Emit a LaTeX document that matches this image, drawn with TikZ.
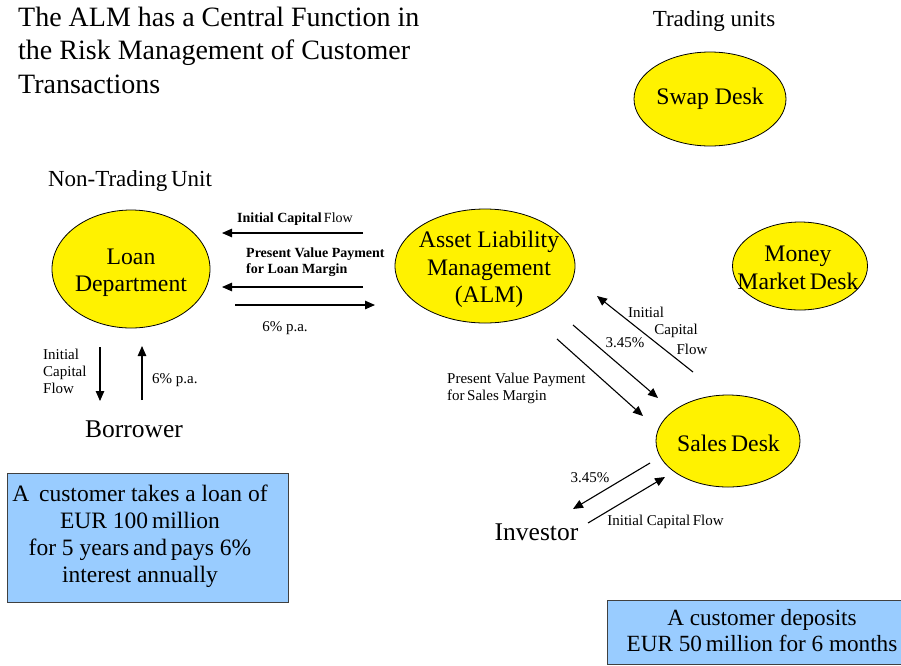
\documentclass[tikz,border=0pt]{standalone}
\usepackage{fontspec}
\setmainfont{Liberation Serif}
\newfontfamily\tms{Liberation Serif}
\usetikzlibrary{arrows.meta,shapes.geometric}
\newcommand{\fsz}[2]{\tms\fontsize{#1}{#2}\selectfont}
\tikzset{
  unit/.style={ellipse, draw=black, line width=0.8pt, fill=yellow, inner sep=0pt},
  unittext/.style={align=center, inner sep=0pt, font=\fsz{23.7}{27.5}},
  flow/.style={line width=1.1pt, -{Triangle[length=10pt,width=8.5pt]}},
  lbl/.style={font=\fsz{15}{17}, inner sep=0pt, align=left},
  blbl/.style={font=\fsz{14}{16}\bfseries, inner sep=0pt, align=left},
  big/.style={font=\fsz{25.5}{30}, inner sep=0pt},
  infobox/.style={draw=black!75, line width=0.8pt, fill={rgb,255:red,153;green,204;blue,255}, inner sep=0pt},
  infotext/.style={font=\fsz{23.5}{27}, align=center, inner sep=0pt}
}
\begin{document}
\begin{tikzpicture}[x=1pt,y=-1pt]
\useasboundingbox (0,0) rectangle (901,665);
% title
\node[anchor=north west, align=left, inner sep=0pt, font=\fsz{28}{33.5}] (title) at (18,6.5)
  {The ALM has a Central Function in\\the Risk Management of Customer\\Transactions};
\node[font=\fsz{23}{26}, inner sep=0pt] (trading) at (714,21) {Trading units};
\node[font=\fsz{23}{26}, inner sep=0pt] (nontrading) at (130,181) {Non-Trading\,Unit};
% ellipses
\node[unit, minimum width=152pt, minimum height=94pt] (swap) at (710,99) {};
\node[unittext] (swapt) at (swap.center) {Swap Desk};
\node[unit, minimum width=158pt, minimum height=118pt] (loan) at (131,269) {};
\node[unittext] (loant) at (131,273) {Loan\\Department};
\node[unit, minimum width=180pt, minimum height=114pt] (alm) at (485,266) {};
\node[unittext] (almt) at (489,269.5) {Asset Liability\\Management\\(ALM)};
\node[unit, minimum width=135pt, minimum height=88pt] (money) at (800,266) {};
\node[unittext] (moneyt) at (798,268) {Money\\Market\,Desk};
\node[unit, minimum width=144pt, minimum height=92pt] (sales) at (728,441) {};
\node[unittext] (salest) at (728.5,443) {Sales\,Desk};
\node[big] (borrower) at (134,429) {Borrower};
\node[big] (investor) at (536.5,532) {Investor};
% boxes
\node[infobox, minimum width=281pt, minimum height=129pt] (box1) at (147.5,537.5) {};
\node[infotext] (box1t) at (140,536)
  {A\, customer takes a loan of\\EUR 100\,million\\for 5 years\,and\,pays 6\%\\interest annually};
\node[infobox, minimum width=300pt, minimum height=64pt] (box2) at (757,632) {};
\node[infotext, font=\fsz{23.2}{26}] (box2t) at (762,631)
  {A customer deposits\\EUR 50\,million for 6 months};
% horizontal arrows
\coordinate (a1s) at (363,233); \coordinate (a1e) at (222,233);
\coordinate (a2s) at (363,287); \coordinate (a2e) at (222,287);
\coordinate (a3s) at (235,305); \coordinate (a3e) at (375,305);
\draw[flow] (a1s) -- (a1e);
\draw[flow] (a2s) -- (a2e);
\draw[flow] (a3s) -- (a3e);
\node[blbl] (l1) at (295,219) {Initial Capital\,{\mdseries Flow}};
\node[blbl, anchor=west] (l2) at (246,262) {Present Value Payment\\for Loan Margin};
\node[lbl] (l3) at (285,328) {6\% p.a.};
% vertical arrows
\coordinate (v1s) at (100,347); \coordinate (v1e) at (100,401);
\coordinate (v2s) at (142,400); \coordinate (v2e) at (142,346);
\draw[flow] (v1s) -- (v1e);
\draw[flow] (v2s) -- (v2e);
\node[lbl, anchor=west] (l4) at (43,371) {Initial\\Capital\\Flow};
\node[lbl, anchor=west] (l5) at (152,380) {6\% p.a.};
% diagonal arrows ALM - Sales
\coordinate (d1s) at (693,372); \coordinate (d1e) at (597,296);
\coordinate (d2s) at (573,325); \coordinate (d2e) at (658,398);
\coordinate (d3s) at (557,339); \coordinate (d3e) at (643,416);
\draw[flow] (d1s) -- (d1e);
\draw[flow] (d2s) -- (d2e);
\draw[flow] (d3s) -- (d3e);
\node[lbl] (l6a) at (646,312) {Initial};
\node[lbl] (l6b) at (676,331) {Capital};
\node[lbl] (l6c) at (692,349) {Flow};
\node[lbl] (l7) at (625,343) {3.45\%};
\node[lbl, anchor=west] (l8) at (447,388) {Present Value Payment\\for\,Sales Margin};
% investor arrows
\coordinate (i1s) at (650,463); \coordinate (i1e) at (573,509);
\coordinate (i2s) at (588,523); \coordinate (i2e) at (665,477);
\draw[flow] (i1s) -- (i1e);
\draw[flow] (i2s) -- (i2e);
\node[lbl] (l9) at (590,478) {3.45\%};
\node[lbl] (l10) at (665.5,522) {Initial Capital\,Flow};
\end{tikzpicture}
\end{document}
